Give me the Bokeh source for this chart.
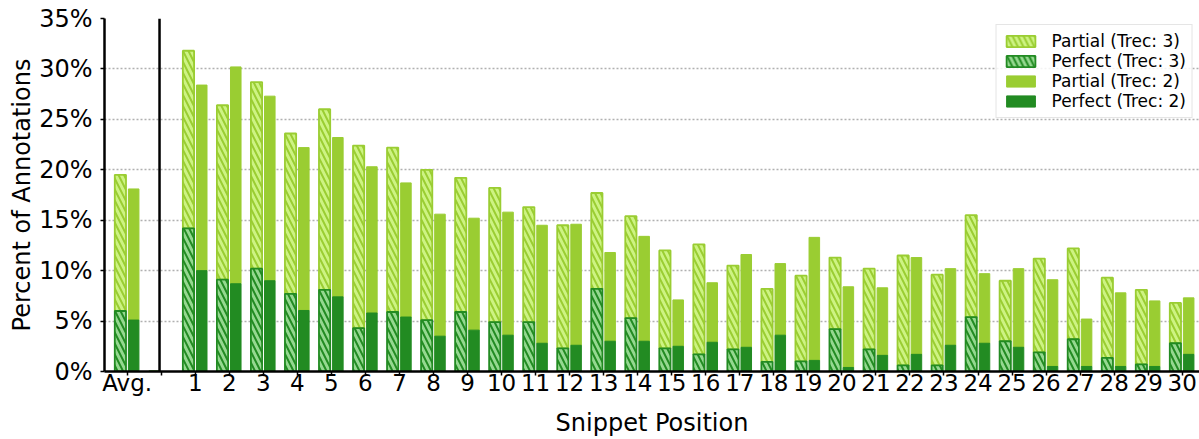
from bokeh.plotting import figure
from bokeh.models import (FixedTicker, Span, Legend, LegendItem, ColumnDataSource,
                          CustomJSTickFormatter)
from bokeh.embed import file_html
from bokeh.resources import INLINE
import numpy as np

# ---- data (percent of annotations) ----
categories = ["Avg.", ""] + [str(i) for i in range(1, 31)]
positions = list(range(-1, 31))          # Avg. at -1, blank gap at 0, snippets 1..30

trec3_perfect = [6.0, 0.0, 14.2, 9.1, 10.2, 7.7, 8.1, 4.3, 5.9, 5.1, 5.9, 4.9, 4.9, 2.3, 8.2, 5.3,
                 2.3, 1.7, 2.2, 0.95, 1.0, 4.2, 2.2, 0.6, 0.6, 5.4, 3.0, 1.9, 3.2, 1.35, 0.7, 2.8]
trec3_partial = [13.5, 0.0, 17.6, 17.3, 18.5, 15.9, 17.9, 18.1, 16.3, 14.9, 13.3, 13.3, 11.4, 12.2, 9.5, 10.1,
                 9.7, 10.9, 8.3, 7.25, 8.5, 7.1, 8.0, 10.9, 9.0, 10.1, 6.0, 9.3, 9.0, 7.95, 7.4, 4.0]
trec2_perfect = [5.1, 0.0, 10.0, 8.7, 9.0, 6.05, 7.4, 5.8, 5.4, 3.5, 4.1, 3.6, 2.8, 2.6, 3.0, 3.0,
                 2.5, 2.9, 2.4, 3.6, 1.1, 0.4, 1.6, 1.7, 2.6, 2.8, 2.4, 0.5, 0.5, 0.5, 0.5, 1.7]
trec2_partial = [13.0, 0.0, 18.4, 21.5, 18.3, 16.15, 15.8, 14.5, 13.3, 12.1, 11.1, 12.2, 11.7, 12.0, 8.8, 10.4,
                 4.6, 5.9, 9.2, 7.1, 12.2, 8.0, 6.7, 9.6, 7.6, 6.9, 7.8, 8.6, 4.7, 7.3, 6.5, 5.6]
y_ticks = [0, 5, 10, 15, 20, 25, 30, 35]
separator_x = -0.05

# ---- styling ----
FONT = "DejaVu Sans"
YG = "#9acd32"        # yellowgreen
FG = "#228b22"        # forestgreen
YG_LIGHT = "#cdf383"
FG_LIGHT = "#95d890"

x = np.array(positions, dtype=float)
p3 = np.array(trec3_perfect)
q3 = np.array(trec3_partial)
p2 = np.array(trec2_perfect)
q2 = np.array(trec2_partial)

src = ColumnDataSource(dict(
    x3=x - 0.2, x2=x + 0.19,
    p3=p3, t3=p3 + q3,
    p2=p2, t2=p2 + q2,
    zero=np.zeros_like(x),
))

p = figure(width=1199, height=439, output_backend="svg", toolbar_location=None,
           x_range=(-1.667, 30.508), y_range=(0, 35),
           min_border_left=104, min_border_right=0, min_border_top=18, min_border_bottom=40)
p.outline_line_color = None
p.background_fill_color = "white"
p.border_fill_color = "white"

# bars
r_q3 = p.vbar(x="x3", bottom="p3", top="t3", width=0.33, source=src,
              fill_color=YG_LIGHT, line_color=YG, line_width=1.8,
              hatch_pattern="\\", hatch_color=YG, hatch_weight=2, hatch_scale=11)
r_p3 = p.vbar(x="x3", bottom="zero", top="p3", width=0.33, source=src,
              fill_color=FG_LIGHT, line_color=FG, line_width=1.8,
              hatch_pattern="\\", hatch_color=FG, hatch_weight=2, hatch_scale=11)
r_q2 = p.vbar(x="x2", bottom="p2", top="t2", width=0.31, source=src,
              fill_color=YG, line_color=YG, line_width=1)
r_p2 = p.vbar(x="x2", bottom="zero", top="p2", width=0.31, source=src,
              fill_color=FG, line_color=FG, line_width=1)

# separator between average and per-position bars
p.add_layout(Span(location=separator_x, dimension="height", line_color="black", line_width=2.5))

# grid
p.xgrid.grid_line_color = None
p.ygrid.ticker = FixedTicker(ticks=y_ticks)
p.ygrid.grid_line_color = "#b0b0b0"
p.ygrid.grid_line_dash = "2 2"
p.ygrid.grid_line_width = 1.5

# axes
p.yaxis.ticker = FixedTicker(ticks=y_ticks)
p.yaxis.formatter = CustomJSTickFormatter(code="return tick.toFixed(0) + '%';")
p.xaxis.ticker = FixedTicker(ticks=positions)
p.xaxis.major_label_overrides = {pos: lab for pos, lab in zip(positions, categories)}

for ax in (p.xaxis[0], p.yaxis[0]):
    ax.axis_line_color = "black"
    ax.axis_line_width = 2.5
    ax.major_tick_line_color = "black"
    ax.major_tick_line_width = 1.5
    ax.major_tick_in = 0
    ax.major_tick_out = 4
    ax.minor_tick_line_color = None
    ax.major_label_text_font = FONT
    ax.major_label_text_color = "black"
    ax.axis_label_text_font = FONT
    ax.axis_label_text_font_style = "normal"
    ax.axis_label_text_color = "black"
    ax.axis_label_text_font_size = "24px"

p.yaxis.major_label_text_font_size = "24px"
p.xaxis.major_label_text_font_size = "23px"
p.yaxis.major_label_standoff = 8
p.xaxis.major_label_standoff = -6
p.yaxis.axis_label = "Percent of Annotations"
p.xaxis.axis_label = "Snippet Position"
p.yaxis.axis_label_standoff = 0
p.xaxis.axis_label_standoff = 10

legend = Legend(items=[
    LegendItem(label="Partial (Trec: 3)", renderers=[r_q3]),
    LegendItem(label="Perfect (Trec: 3)", renderers=[r_p3]),
    LegendItem(label="Partial (Trec: 2)", renderers=[r_q2]),
    LegendItem(label="Perfect (Trec: 2)", renderers=[r_p2]),
], location="top_right")
legend.label_text_font = FONT
legend.label_text_font_size = "17px"
legend.label_text_color = "black"
legend.glyph_width = 36
legend.glyph_height = 14
legend.label_height = 18
legend.label_standoff = 13
legend.spacing = -3
legend.padding = 6
legend.margin = 6
legend.border_line_color = "#cccccc"
legend.border_line_width = 1
legend.background_fill_alpha = 0.85
p.add_layout(legend)

open("out.html", "w").write(file_html(p, INLINE))
